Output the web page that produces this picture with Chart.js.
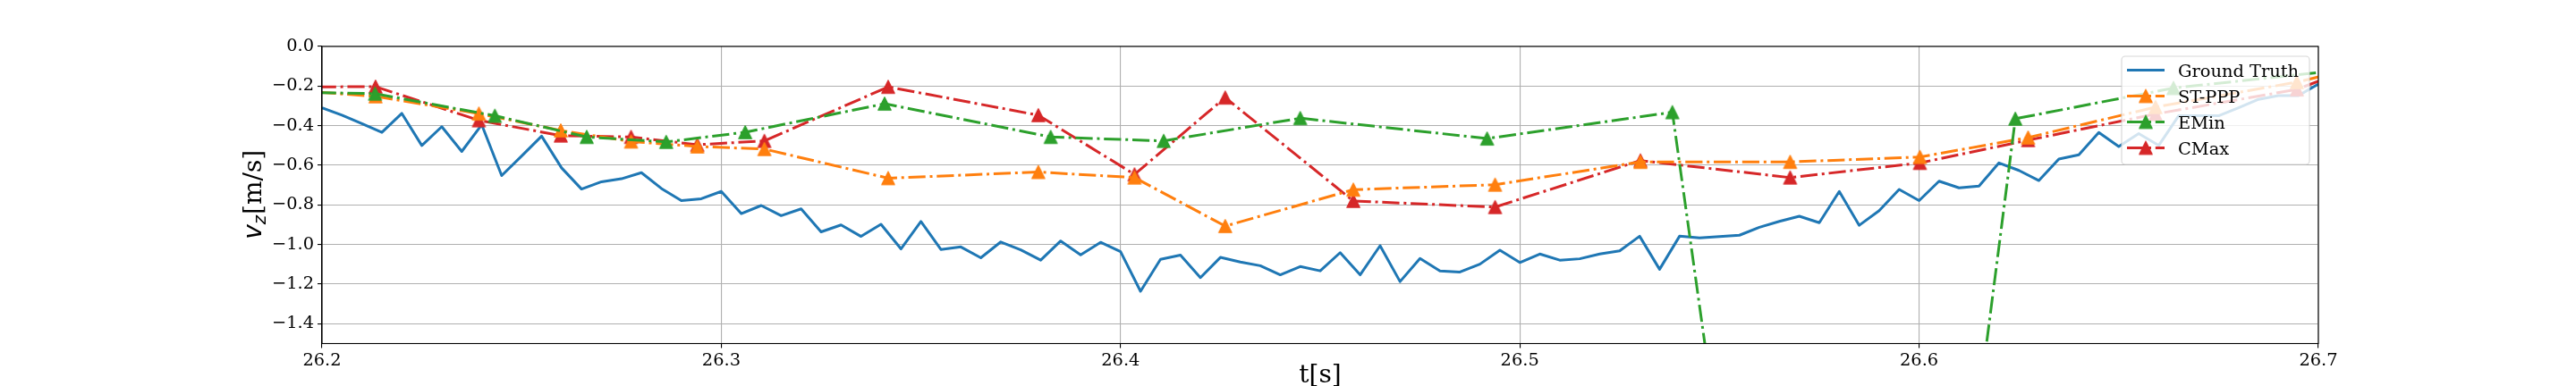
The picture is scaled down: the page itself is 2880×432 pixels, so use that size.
<!DOCTYPE html>
<html><head><meta charset="utf-8">
<script src="https://cdn.jsdelivr.net/npm/chart.js@4.4.1/dist/chart.umd.min.js"></script>
<style>html,body{margin:0;padding:0;background:#fff;}#wrap{width:2880px;height:432px;position:relative;}</style>
</head><body><div id="wrap"><canvas id="c"></canvas></div>
<script>
const xTicks = [26.2, 26.3, 26.4, 26.5, 26.6, 26.7];
const yTicks = [0.0, -0.2, -0.4, -0.6, -0.8, -1.0, -1.2, -1.4];
const seriesNames = ['Ground Truth', 'ST-PPP', 'EMin', 'CMax'];
const seriesColors = ['#1f77b4', '#ff7f0e', '#2ca02c', '#d62728'];

const gtTime = [
26.200,26.205,26.210,26.215,26.220,26.225,26.230,26.235,26.240,26.245,
26.250,26.255,26.260,26.265,26.270,26.275,26.280,26.285,26.290,26.295,
26.300,26.305,26.310,26.315,26.320,26.325,26.330,26.335,26.340,26.345,
26.350,26.355,26.360,26.365,26.370,26.375,26.380,26.385,26.390,26.395,
26.400,26.405,26.410,26.415,26.420,26.425,26.430,26.435,26.440,26.445,
26.450,26.455,26.460,26.465,26.470,26.475,26.480,26.485,26.490,26.495,
26.500,26.505,26.510,26.515,26.520,26.525,26.530,26.535,26.540,26.545,
26.550,26.555,26.560,26.565,26.570,26.575,26.580,26.585,26.590,26.595,
26.600,26.605,26.610,26.615,26.620,26.625,26.630,26.635,26.640,26.645,
26.650,26.655,26.660,26.665,26.670,26.675,26.680,26.685,26.690,26.695,
26.700];
const gtVz = [
-0.310,-0.347,-0.390,-0.434,-0.338,-0.500,-0.405,-0.530,-0.395,-0.652,
-0.553,-0.453,-0.613,-0.720,-0.683,-0.668,-0.637,-0.717,-0.778,-0.769,
-0.732,-0.844,-0.803,-0.854,-0.820,-0.936,-0.901,-0.959,-0.898,-1.022,
-0.884,-1.025,-1.012,-1.067,-0.987,-1.027,-1.079,-0.982,-1.052,-0.989,
-1.036,-1.236,-1.075,-1.053,-1.167,-1.065,-1.088,-1.107,-1.153,-1.111,
-1.133,-1.041,-1.153,-1.006,-1.187,-1.070,-1.133,-1.139,-1.099,-1.029,
-1.091,-1.048,-1.079,-1.072,-1.048,-1.032,-0.958,-1.125,-0.958,-0.967,
-0.960,-0.953,-0.913,-0.883,-0.857,-0.890,-0.732,-0.903,-0.829,-0.722,
-0.778,-0.680,-0.714,-0.705,-0.588,-0.626,-0.677,-0.568,-0.547,-0.434,
-0.505,-0.440,-0.500,-0.350,-0.350,-0.350,-0.310,-0.267,-0.248,-0.248,
-0.190];

const stpppTime = [26.185,26.2134,26.2393,26.2598,26.2774,26.2940,26.3108,26.3418,26.3794,26.4035,26.4262,26.4583,26.4938,26.5302,26.5677,26.6002,26.6273,26.6592,26.6946,26.710];
const stpppVz   = [-0.210,-0.252,-0.339,-0.424,-0.480,-0.505,-0.518,-0.665,-0.634,-0.662,-0.907,-0.723,-0.698,-0.583,-0.583,-0.558,-0.460,-0.306,-0.180,-0.106];
const cmaxTime  = [26.185,26.2134,26.2393,26.2598,26.2774,26.2940,26.3108,26.3418,26.3794,26.4035,26.4262,26.4583,26.4938,26.5302,26.5677,26.6002,26.6273,26.6592,26.6946,26.710];
const cmaxVz    = [-0.205,-0.203,-0.373,-0.450,-0.457,-0.496,-0.477,-0.204,-0.347,-0.646,-0.258,-0.780,-0.811,-0.576,-0.662,-0.588,-0.473,-0.341,-0.217,-0.097];
const eminTime  = [26.185,26.2133,26.2433,26.2663,26.2862,26.3060,26.3409,26.3825,26.4108,26.4450,26.4918,26.5382,26.5832,26.6241,26.6637,26.710];
const eminVz    = [-0.228,-0.238,-0.350,-0.457,-0.482,-0.433,-0.289,-0.457,-0.477,-0.362,-0.465,-0.332,-6.80,-0.365,-0.210,-0.110];

const DASH = [19.2, 4.8, 3, 4.8];

function tri(color) {
  const c = document.createElement('canvas');
  c.width = 18; c.height = 18;
  const g = c.getContext('2d');
  g.fillStyle = color; g.strokeStyle = color; g.lineWidth = 1.3; g.lineJoin = 'round';
  g.beginPath(); g.moveTo(9, 1.8); g.lineTo(16.2, 16.2); g.lineTo(1.8, 16.2); g.closePath();
  g.fill(); g.stroke();
  return c;
}
function pts(ts, vs) { return ts.map((t, i) => ({x: t, y: vs[i]})); }
function fmt(v) { const s = Math.abs(v).toFixed(1); return v < -1e-9 ? '\u2212' + s : s; }

function markerSet(name, color, ts, vs, order) {
  return {
    label: name, data: pts(ts, vs), borderColor: color, backgroundColor: color,
    borderWidth: 3, borderDash: DASH, borderCapStyle: 'butt', borderJoinStyle: 'round',
    pointStyle: tri(color), pointRadius: 8, pointBorderWidth: 0,
    tension: 0, order: order, clip: 0
  };
}

const overlay = {
  id: 'overlay',
  afterDatasetsDraw(chart) {
    const {ctx, chartArea: a} = chart;
    ctx.save();
    // spines
    ctx.strokeStyle = '#000'; ctx.lineWidth = 1.1; ctx.setLineDash([]);
    ctx.strokeRect(a.left, a.top, a.right - a.left, a.bottom - a.top);
    // legend
    const lx = a.right - 220, ly = a.top + 11, lw = 210, lh = 121;
    ctx.beginPath();
    ctx.roundRect(lx, ly, lw, lh, 4);
    ctx.fillStyle = 'rgba(255,255,255,0.8)'; ctx.fill();
    ctx.strokeStyle = 'rgba(204,204,204,0.8)'; ctx.lineWidth = 1.1; ctx.stroke();
    chart.data.datasets.forEach((ds, i) => {
      const y = ly + 15.5 + i * 29;
      const x0 = lx + 6, x1 = lx + 48;
      ctx.beginPath();
      ctx.setLineDash(ds.borderDash || []); ctx.lineDashOffset = 0;
      ctx.strokeStyle = ds.borderColor; ctx.lineWidth = 3; ctx.lineCap = 'butt';
      ctx.moveTo(x0, y); ctx.lineTo(x1, y); ctx.stroke();
      ctx.setLineDash([]);
      if (ds.pointStyle instanceof HTMLCanvasElement) {
        const im = ds.pointStyle;
        ctx.drawImage(im, (x0 + x1) / 2 - im.width / 2, y - im.height / 2);
      }
      ctx.fillStyle = '#000'; ctx.font = '19.4px "DejaVu Serif"'; ctx.textBaseline = 'alphabetic'; ctx.textAlign = 'left';
      ctx.fillText(ds.label, lx + 63, y + 7);
    });
    // x label
    ctx.fillStyle = '#000'; ctx.textAlign = 'center'; ctx.textBaseline = 'alphabetic';
    ctx.font = '28px "DejaVu Serif"';
    ctx.fillText('t[s]', (a.left + a.right) / 2, 428);
    // y label (mathtext style)
    ctx.save();
    ctx.translate(a.left - 68.5, (a.top + a.bottom) / 2);
    ctx.rotate(-Math.PI / 2);
    ctx.textAlign = 'left';
    const fV = 'italic 28px "DejaVu Sans"', fZ = 'italic 19.6px "DejaVu Sans"', fR = '28px "DejaVu Serif"';
    ctx.font = fV; const wv = ctx.measureText('v').width;
    ctx.font = fZ; const wz = ctx.measureText('z').width;
    ctx.font = fR; const wr = ctx.measureText('[m/s]').width;
    let x = -(wv + wz + wr) / 2;
    ctx.font = fV; ctx.fillText('v', x, 0); x += wv;
    ctx.font = fZ; ctx.fillText('z', x, 5.5); x += wz + 1;
    ctx.font = fR; ctx.fillText('[m/s]', x, 0);
    ctx.restore();
    ctx.restore();
  }
};

new Chart(document.getElementById('c'), {
  type: 'line',
  data: {
    datasets: [
      {label: seriesNames[0], data: pts(gtTime, gtVz), borderColor: seriesColors[0], backgroundColor: seriesColors[0],
       borderWidth: 3, pointRadius: 0, tension: 0, borderJoinStyle: 'round', order: 4, clip: 0},
      markerSet(seriesNames[1], seriesColors[1], stpppTime, stpppVz, 2),
      markerSet(seriesNames[2], seriesColors[2], eminTime, eminVz, 1),
      markerSet(seriesNames[3], seriesColors[3], cmaxTime, cmaxVz, 3)
    ]
  },
  options: {
    responsive: true, maintainAspectRatio: false, animation: false, events: [],
    layout: {padding: {left: 300, right: 288, top: 52, bottom: 7.5}},
    plugins: {legend: {display: false}, tooltip: {enabled: false}},
    scales: {
      x: {
        type: 'linear', min: 26.2, max: 26.7,
        afterBuildTicks: s => { s.ticks = xTicks.map(v => ({value: v})); },
        afterFit: s => { s.height = 40; },
        ticks: {autoSkip: false, maxRotation: 0, padding: 3, color: '#000',
                font: {family: 'DejaVu Serif', size: 19.4}, callback: v => fmt(v)},
        grid: {color: '#b0b0b0', lineWidth: 1.1, tickLength: 5, tickColor: '#000', tickWidth: 1.1},
        border: {display: true, color: '#000', width: 1.1}
      },
      y: {
        type: 'linear', min: -1.5, max: 0,
        afterBuildTicks: s => { s.ticks = yTicks.map(v => ({value: v})); },
        afterFit: s => { s.width = 60; },
        ticks: {autoSkip: false, padding: 4, color: '#000',
                font: {family: 'DejaVu Serif', size: 19.4}, callback: v => fmt(v)},
        grid: {color: '#b0b0b0', lineWidth: 1.1, tickLength: 5, tickColor: '#000', tickWidth: 1.1},
        border: {display: true, color: '#000', width: 1.1}
      }
    }
  },
  plugins: [overlay]
});
</script></body></html>
